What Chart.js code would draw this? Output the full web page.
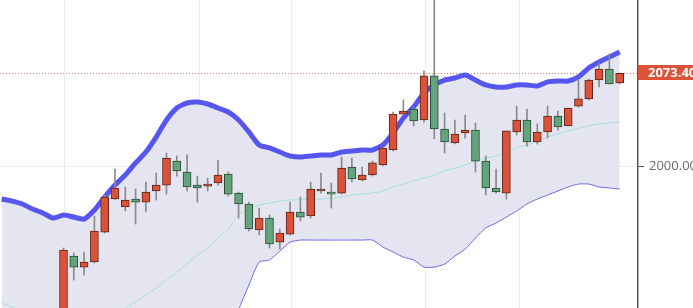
<!DOCTYPE html>
<html>
<head>
<meta charset="utf-8">
<script src="https://cdn.jsdelivr.net/npm/chart.js@4.4.1/dist/chart.umd.min.js"></script>
<style>
  html, body { margin: 0; padding: 0; background: #fff; overflow: hidden; }
</style>
</head>
<body>
<canvas id="candleChart" width="693" height="308"></canvas>
<script>
// candles, index 0..54 (red = up, green = down)
const opens = [1863.3,1929.5,1920.8,1924.8,1948.4,1974.4,1968.1,1974.4,1972.0,1980.7,
    1985.4,2004.3,1995.7,1985.4,1984.6,1987.0,1994.1,1979.1,1970.5,1950.0,
    1959.4,1940.5,1946.8,1964.2,1961.0,1980.7,1979.1,1979.1,1999.6,1989.4,
    1993.3,2001.2,2013.0,2041.3,2045.3,2036.6,2071.3,2029.5,2018.5,2026.4,
    2028.7,2004.3,1983.1,1979.1,2027.2,2036.6,2019.3,2027.2,2039.8,2031.9,
    2047.6,2053.2,2068.1,2076.8,2065.8];
const highs = [1935.8,1931.9,1932.7,1961.0,1977.5,1998.0,1983.9,1982.3,1987.8,1994.9,
    2010.6,2008.3,2009.1,1992.5,1990.9,2005.1,1995.7,1979.9,1972.0,1967.3,
    1961.8,1950.8,1972.0,1976.0,1987.8,1994.9,1987.0,2007.5,2006.7,1999.6,
    2004.3,2015.4,2042.9,2052.4,2046.1,2075.2,2140.0,2042.1,2036.6,2040.6,
    2034.3,2008.3,1998.0,2028.0,2047.6,2045.3,2033.5,2047.6,2043.7,2046.1,
    2068.1,2068.9,2081.5,2088.6,2073.6];
const lows = [1859.4,1910.6,1914.5,1924.0,1947.6,1974.0,1965.0,1954.7,1964.2,1973.6,
    1978.3,1992.5,1980.7,1972.0,1980.7,1985.4,1976.7,1959.4,1949.2,1946.0,
    1935.8,1935.0,1946.0,1957.1,1959.4,1979.1,1967.3,1978.3,1987.8,1988.6,
    1992.5,2000.4,2012.2,2040.6,2031.9,2035.0,2021.7,2010.6,2017.7,2022.4,
    1995.7,1977.5,1979.1,1974.4,2024.8,2016.1,2017.7,2022.4,2028.7,2031.9,
    2046.9,2052.4,2062.6,2065.0,2065.0];
const closes = [1934.2,1920.8,1924.8,1949.2,1976.0,1983.1,1973.6,1972.0,1979.9,1985.4,
    2006.7,1996.5,1983.9,1983.1,1986.2,1993.3,1978.3,1970.5,1950.8,1959.4,
    1939.0,1947.6,1964.2,1960.2,1982.3,1982.3,1978.3,1998.8,1990.2,1993.3,
    2002.8,2014.6,2041.3,2043.7,2035.8,2071.3,2029.5,2019.3,2025.6,2028.7,
    2004.3,1983.1,1979.9,2028.0,2036.6,2019.3,2027.2,2039.8,2031.1,2046.1,
    2053.2,2068.1,2076.8,2065.0,2073.4];

// bollinger bands, index -6..54
const upperBand = [1974.4,1972.8,1970.5,1966.5,1963.4,1959.4,
    1961.8,1960.2,1958.6,1965.7,1976.0,1985.4,1993.3,2002.8,2011.4,2023.2,
    2036.6,2046.1,2050.0,2050.8,2049.2,2046.1,2042.9,2036.6,2027.2,2016.9,
    2014.6,2011.4,2008.3,2007.5,2008.3,2009.1,2009.1,2011.4,2012.2,2013.0,
    2013.0,2016.9,2026.4,2038.2,2046.9,2057.9,2064.2,2068.1,2069.7,2072.1,
    2068.1,2064.2,2062.6,2062.6,2064.2,2064.2,2063.4,2066.6,2067.3,2067.3,
    2070.5,2077.6,2082.3,2086.2,2090.2];
const middleBand = [1892.5,1889.3,1885.4,1880.7,1877.5,1874.4,
    1871.2,1869.6,1868.9,1869.6,1872.8,1879.1,1888.5,1893.3,1898.8,1904.3,
    1910.6,1916.9,1924.0,1930.3,1935.8,1943.7,1950.8,1961.8,1966.5,1969.7,
    1971.2,1972.8,1973.6,1974.0,1974.4,1974.4,1975.2,1976.0,1977.6,1978.3,
    1979.1,1980.7,1983.9,1986.2,1988.6,1990.9,1993.3,1996.5,1998.8,2001.2,
    2004.3,2006.7,2008.3,2011.4,2014.6,2016.9,2020.1,2023.2,2025.6,2028.0,
    2030.3,2031.9,2033.5,2034.3,2035.0];
const lowerBand = [1810.6,1805.8,1800.3,1794.8,1791.7,1789.3,
    1780.6,1779.1,1779.1,1773.6,1769.6,1772.8,1783.8,1783.8,1786.2,1785.4,
    1784.6,1787.7,1797.9,1809.8,1822.4,1841.3,1858.6,1887.0,1906.7,1924.8,
    1926.4,1933.4,1940.5,1942.1,1942.1,1942.1,1942.1,1942.1,1942.1,1942.1,
    1942.1,1936.6,1932.7,1928.7,1926.4,1920.8,1920.8,1923.2,1929.5,1935.0,
    1943.7,1951.6,1955.5,1960.2,1965.0,1970.5,1974.4,1977.5,1980.7,1983.9,
    1986.2,1986.2,1983.9,1983.1,1982.3];

const yTicks = [2000];
const timeGrid = [0.08, 13.25, 22.15, 35.16, 44.25];   // date lines, in bar units
const lastPrice = closes[closes.length - 1];

const bandStart = -6;
const candleX = opens.map((_, i) => i);
const bandX = upperBand.map((_, i) => i + bandStart);

const RED = '#db5238', RED_EDGE = '#5c2418';
const GREEN = '#64a47c', GREEN_EDGE = '#284c35';

const bodies = candleX.map((x, i) => ({ x: x, y: [Math.min(opens[i], closes[i]), Math.max(opens[i], closes[i])] }));
const wicks = candleX.map((x, i) => ({ x: x, y: [lows[i], highs[i]] }));
const isUp = candleX.map((_, i) => closes[i] >= opens[i]);

const priceLine = {
    id: 'priceLine',
    beforeDatasetsDraw(chart) {
        const { ctx, chartArea, scales } = chart;
        const y = Math.round(scales.y.getPixelForValue(lastPrice)) + 0.5;
        ctx.save();
        ctx.strokeStyle = '#e3806c';
        ctx.lineWidth = 1;
        ctx.setLineDash([1, 2]);
        ctx.beginPath();
        ctx.moveTo(chartArea.left, y);
        ctx.lineTo(chartArea.right, y);
        ctx.stroke();
        ctx.restore();
    },
    afterDraw(chart) {
        const { ctx, chartArea, scales } = chart;
        const y = Math.round(scales.y.getPixelForValue(lastPrice));
        ctx.save();
        ctx.fillStyle = RED;
        ctx.fillRect(chartArea.right, y - 8, chart.width - chartArea.right, 15);
        ctx.fillStyle = '#fff';
        ctx.font = 'bold 13px "Open Sans", sans-serif';
        ctx.textBaseline = 'middle';
        ctx.fillText(lastPrice.toFixed(2), chartArea.right + 10, y);
        ctx.restore();
    }
};

new Chart(document.getElementById('candleChart'), {
    type: 'bar',
    data: {
        datasets: [
            {
                type: 'line',
                data: bandX.map((x, i) => ({ x: x, y: upperBand[i] })),
                borderColor: '#5656ee',
                borderWidth: 5,
                backgroundColor: '#e5e5f1',
                fill: '+1',
                pointRadius: 0,
                tension: 0.2,
                order: 5
            },
            {
                type: 'line',
                data: bandX.map((x, i) => ({ x: x, y: lowerBand[i] })),
                borderColor: '#6a6ae6',
                borderWidth: 1,
                pointRadius: 0,
                tension: 0.2,
                fill: false,
                order: 4
            },
            {
                type: 'line',
                data: bandX.map((x, i) => ({ x: x, y: middleBand[i] })),
                borderColor: '#a6e2d4',
                borderWidth: 1,
                pointRadius: 0,
                tension: 0.2,
                fill: false,
                order: 3
            },
            {
                data: wicks,
                backgroundColor: '#8a8a8a',
                barThickness: 1,
                grouped: false,
                order: 2
            },
            {
                data: bodies,
                backgroundColor: isUp.map(u => u ? RED : GREEN),
                borderColor: isUp.map(u => u ? RED_EDGE : GREEN_EDGE),
                borderWidth: 1,
                borderSkipped: false,
                barThickness: 8,
                minBarLength: 2,
                grouped: false,
                order: 1
            }
        ]
    },
    options: {
        responsive: false,
        animation: false,
        events: [],
        layout: { padding: 0 },
        plugins: {
            legend: { display: false },
            tooltip: { enabled: false }
        },
        scales: {
            x: {
                type: 'linear',
                min: -6.165,
                max: 55.78,
                offset: false,
                border: { display: false },
                grid: { color: '#ececf0', drawTicks: false, offset: false },
                ticks: { display: false },
                afterBuildTicks: s => { s.ticks = timeGrid.map(v => ({ value: v })); },
                afterFit: s => { s.height = 0; s.paddingLeft = 0; s.paddingRight = 0; }
            },
            y: {
                position: 'right',
                min: 1888.6,
                max: 2131.1,
                border: { display: true, color: '#555', width: 1.5 },
                grid: { color: '#ececf0', tickColor: '#555', tickLength: 6 },
                ticks: {
                    color: '#6b6b6b',
                    padding: 5,
                    font: { family: '"Open Sans", sans-serif', size: 13 },
                    callback: v => Number(v).toFixed(2)
                },
                afterBuildTicks: s => { s.ticks = yTicks.map(v => ({ value: v })); },
                afterFit: s => { s.width = 55; s.paddingTop = 0; s.paddingBottom = 0; }
            }
        }
    },
    plugins: [priceLine]
});
</script>
</body>
</html>
